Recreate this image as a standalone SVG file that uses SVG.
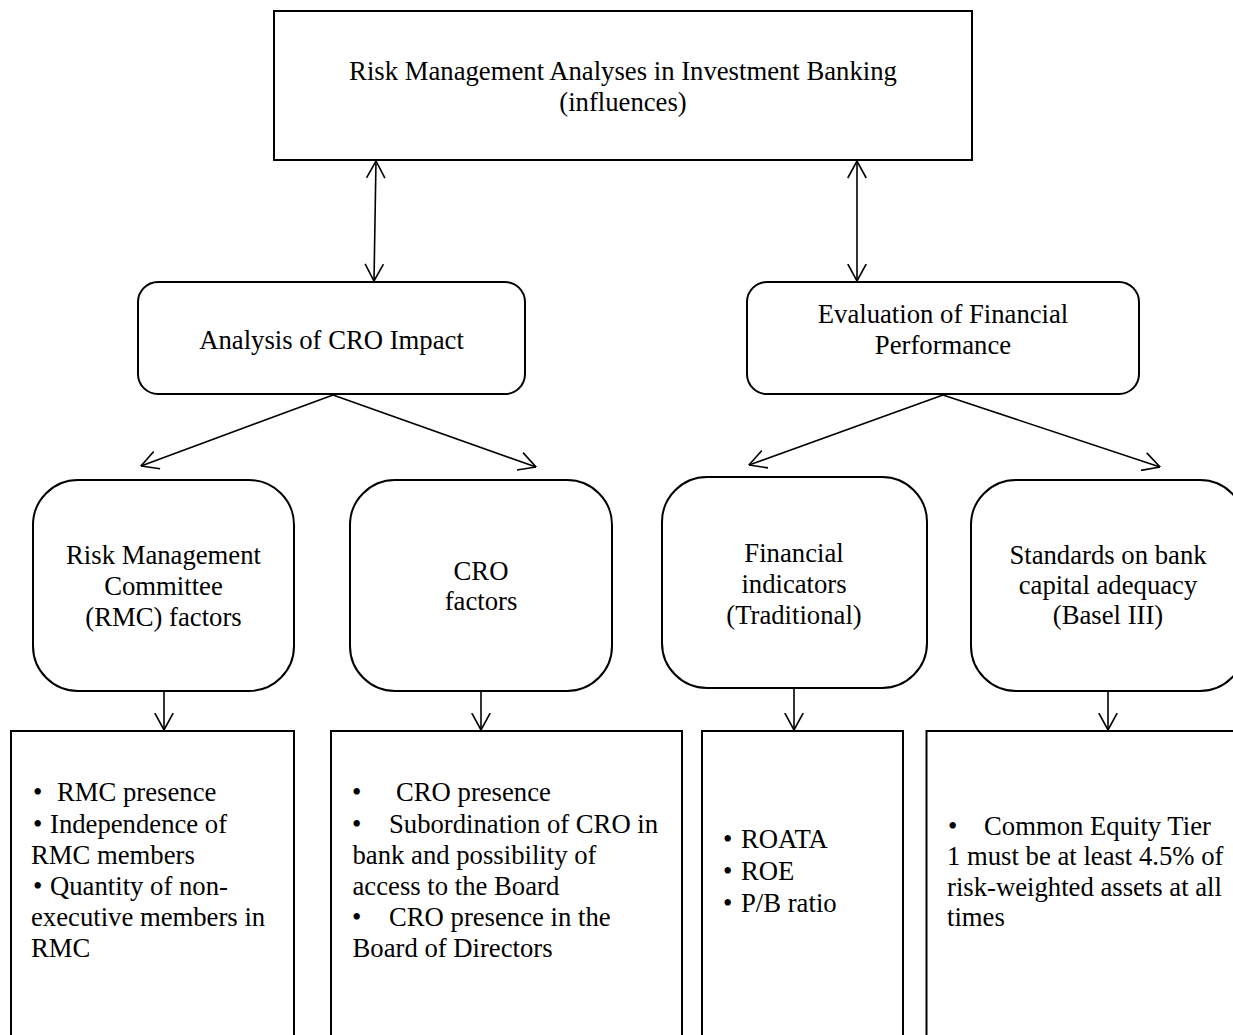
<svg xmlns="http://www.w3.org/2000/svg" width="1233" height="1035" viewBox="0 0 1233 1035">
<style>
  .box{fill:#fff;stroke:#000;stroke-width:2}
  .t{font-family:"Liberation Serif","Times New Roman",serif;font-size:26.7px;fill:#000}
  .c{text-anchor:middle}
  .con{stroke:#000;stroke-width:1.6;fill:none}
</style>
<defs>
  <marker id="ah" viewBox="0 0 18 20" refX="17.5" refY="10" markerWidth="18" markerHeight="20" markerUnits="userSpaceOnUse" orient="auto-start-reverse">
    <path d="M0.5,0.8 L17.5,10 L0.5,19.2" fill="none" stroke="#000" stroke-width="1.6"/>
  </marker>
</defs>
<rect width="1233" height="1035" fill="#fff"/>

<g id="connectors">
  <line class="con" x1="376" y1="161" x2="374" y2="281" marker-start="url(#ah)" marker-end="url(#ah)"/>
  <line class="con" x1="857" y1="161" x2="857" y2="281" marker-start="url(#ah)" marker-end="url(#ah)"/>
  <line class="con" x1="333" y1="395" x2="141" y2="466" marker-end="url(#ah)"/>
  <line class="con" x1="333" y1="395" x2="536" y2="467" marker-end="url(#ah)"/>
  <line class="con" x1="943" y1="395" x2="749" y2="465" marker-end="url(#ah)"/>
  <line class="con" x1="943" y1="395" x2="1160" y2="467" marker-end="url(#ah)"/>
  <line class="con" x1="164" y1="692" x2="164" y2="730" marker-end="url(#ah)"/>
  <line class="con" x1="481" y1="692" x2="481" y2="730" marker-end="url(#ah)"/>
  <line class="con" x1="794" y1="689" x2="794" y2="730" marker-end="url(#ah)"/>
  <line class="con" x1="1108" y1="692" x2="1108" y2="730" marker-end="url(#ah)"/>
</g>

<g id="top">
  <rect class="box" x="274" y="11" width="698" height="149"/>
  <text class="t c" x="623" y="80">Risk Management Analyses in Investment Banking</text>
  <text class="t c" x="623" y="111">(influences)</text>
</g>

<g id="cro-impact">
  <rect class="box" x="138" y="282" width="387" height="112" rx="20" ry="20"/>
  <text class="t c" x="331.5" y="349">Analysis of CRO Impact</text>
</g>

<g id="fin-perf">
  <rect class="box" x="747" y="282" width="392" height="112" rx="20" ry="20"/>
  <text class="t c" x="943" y="323">Evaluation of Financial</text>
  <text class="t c" x="943" y="354">Performance</text>
</g>

<g id="rmc-factors">
  <rect class="box" x="33" y="480" width="261" height="211" rx="45" ry="45"/>
  <text class="t c" x="163.5" y="564">Risk Management</text>
  <text class="t c" x="163.5" y="595">Committee</text>
  <text class="t c" x="163.5" y="626">(RMC) factors</text>
</g>

<g id="cro-factors">
  <rect class="box" x="350" y="480" width="262" height="211" rx="45" ry="45"/>
  <text class="t c" x="481" y="580">CRO</text>
  <text class="t c" x="481" y="610">factors</text>
</g>

<g id="fin-indicators">
  <rect class="box" x="662" y="477" width="265" height="211" rx="45" ry="45"/>
  <text class="t c" x="794" y="562">Financial</text>
  <text class="t c" x="794" y="593">indicators</text>
  <text class="t c" x="794" y="624">(Traditional)</text>
</g>

<g id="basel">
  <rect class="box" x="971" y="480" width="274" height="211" rx="45" ry="45"/>
  <text class="t c" x="1108" y="564">Standards on bank</text>
  <text class="t c" x="1108" y="594">capital adequacy</text>
  <text class="t c" x="1108" y="624">(Basel III)</text>
</g>

<g id="rmc-list">
  <rect class="box" x="11" y="731" width="283" height="320"/>
  <text class="t" y="801"><tspan x="33">•</tspan><tspan x="57">RMC presence</tspan></text>
  <text class="t" y="833"><tspan x="33">•</tspan><tspan x="50">Independence of</tspan></text>
  <text class="t" x="31" y="864">RMC members</text>
  <text class="t" y="895"><tspan x="33">•</tspan><tspan x="50">Quantity of non-</tspan></text>
  <text class="t" x="31" y="926">executive members in</text>
  <text class="t" x="31" y="957">RMC</text>
</g>

<g id="cro-list">
  <rect class="box" x="331" y="731" width="351" height="320"/>
  <text class="t" y="801"><tspan x="352">•</tspan><tspan x="396">CRO presence</tspan></text>
  <text class="t" y="833"><tspan x="352">•</tspan><tspan x="389">Subordination of CRO in</tspan></text>
  <text class="t" x="352.5" y="864">bank and possibility of</text>
  <text class="t" x="352.5" y="895">access to the Board</text>
  <text class="t" y="926"><tspan x="352">•</tspan><tspan x="389">CRO presence in the</tspan></text>
  <text class="t" x="352.5" y="957">Board of Directors</text>
</g>

<g id="fin-list">
  <rect class="box" x="702" y="731" width="201" height="320"/>
  <text class="t" y="848"><tspan x="723">•</tspan><tspan x="741">ROATA</tspan></text>
  <text class="t" y="880"><tspan x="723">•</tspan><tspan x="741">ROE</tspan></text>
  <text class="t" y="912"><tspan x="723">•</tspan><tspan x="741">P/B ratio</tspan></text>
</g>

<g id="basel-list">
  <rect class="box" x="926.5" y="731" width="330" height="320"/>
  <text class="t" y="835"><tspan x="948">•</tspan><tspan x="984">Common Equity Tier</tspan></text>
  <text class="t" x="947" y="865">1 must be at least 4.5% of</text>
  <text class="t" x="947" y="896">risk-weighted assets at all</text>
  <text class="t" x="947" y="926">times</text>
</g>
</svg>
